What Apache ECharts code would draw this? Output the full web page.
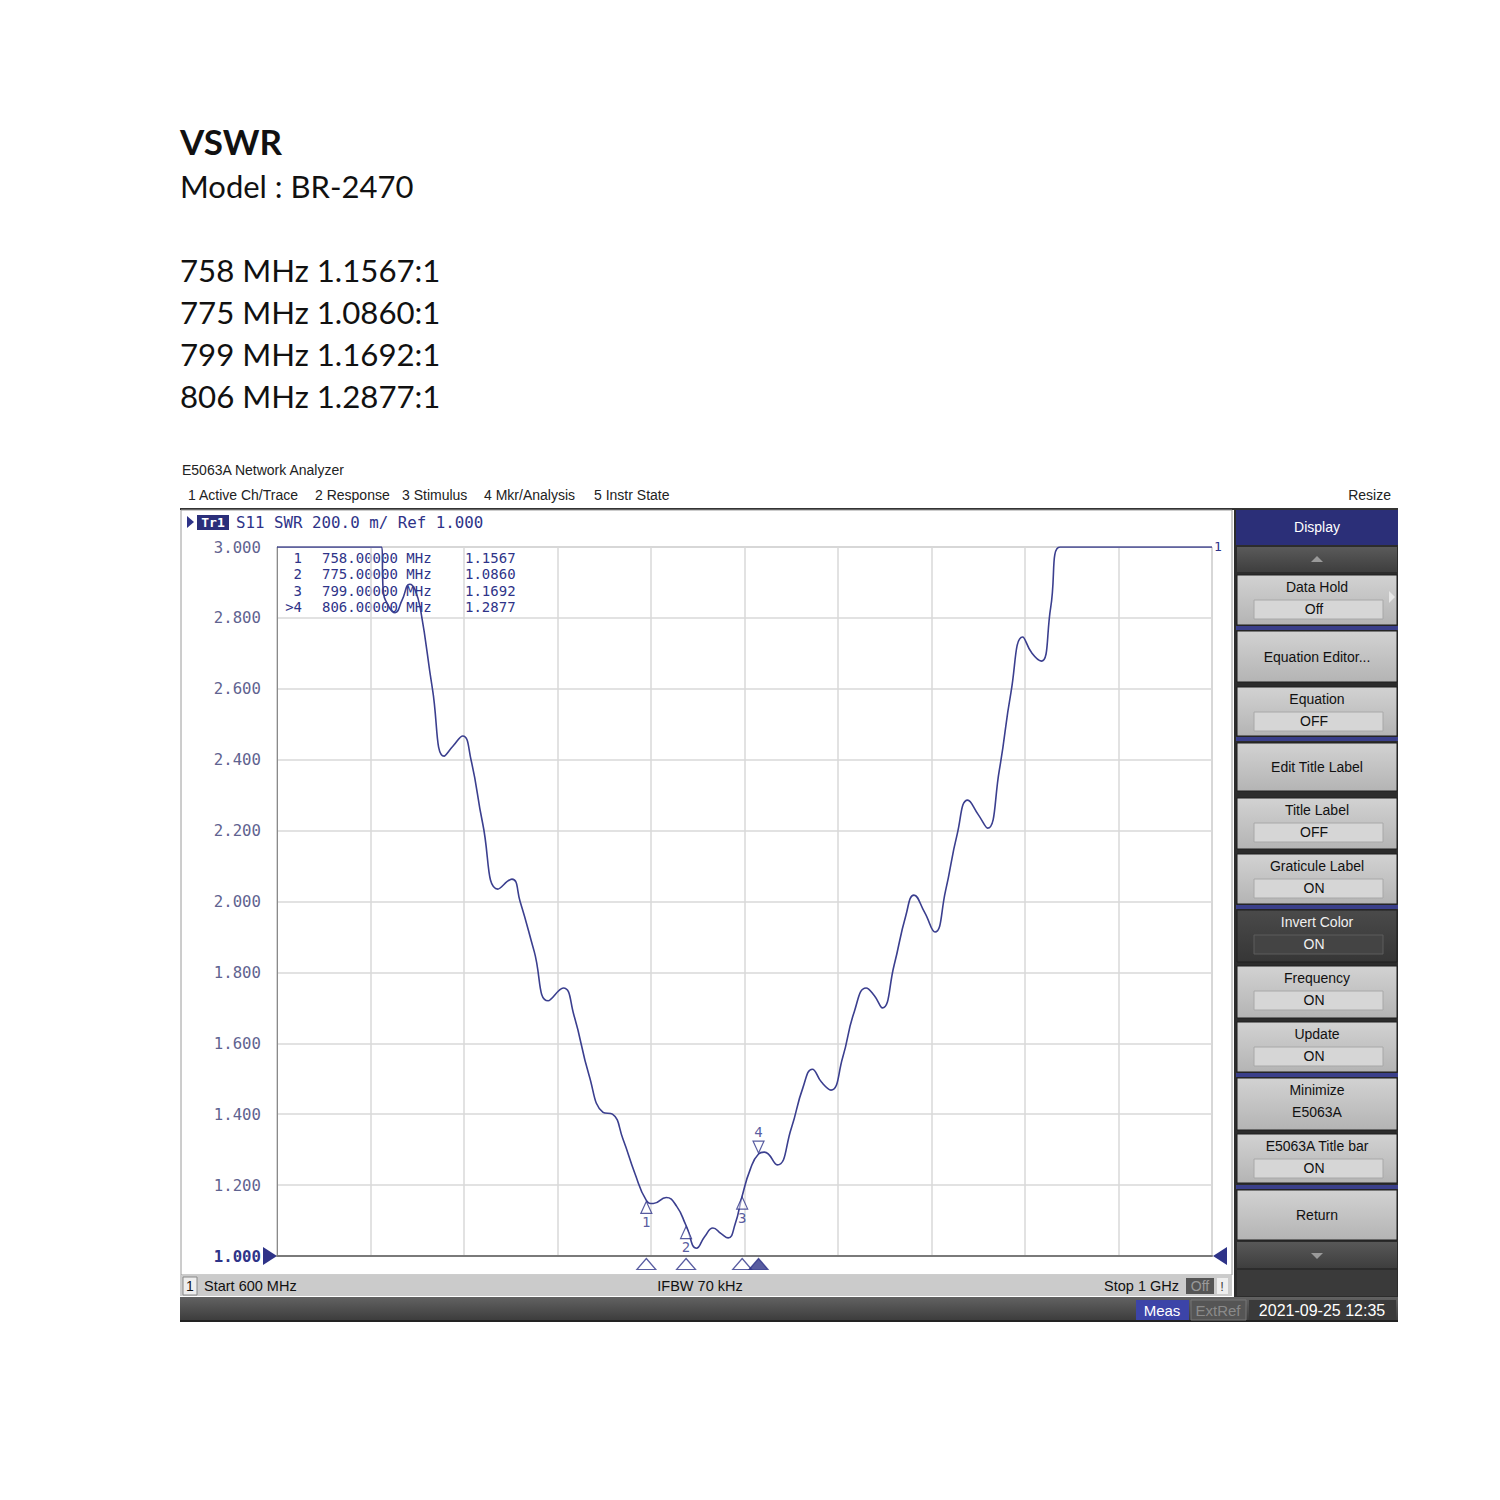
<!DOCTYPE html>
<html>
<head>
<meta charset="utf-8">
<title>VSWR BR-2470</title>
<script src="https://cdn.jsdelivr.net/npm/echarts@6/dist/echarts.min.js"></script>
<style>
html, body { margin: 0; padding: 0; background: #fff; }
#chart { width: 1500px; height: 1500px; }
</style>
</head>
<body>
<div id="chart"></div>
<script>
// S11 trace (MHz / SWR), display clamps at 3.000
const traceFreq = [600, 620, 644.8, 645.4, 648, 650.5, 653.5, 656.8, 659, 661.5, 666.5, 671.5, 675.5, 679.5, 683, 688,
  694.5, 700.5, 704, 710, 716, 722.5, 727, 733.5, 739.5, 743.5, 748, 753, 758, 761, 766.5, 771, 775, 779.5, 783, 786.5,
  790, 793, 796, 799, 802.5, 806, 808.5, 814, 820, 825, 829, 833, 837, 842, 847, 852, 855.5, 859, 864, 869, 872.5, 877,
  881.5, 886, 891, 895.5, 900, 904, 909, 914, 919, 923, 927, 931, 935, 960, 1000]
const traceSwr = [3.0, 3.0, 3.0, 2.88, 2.83, 2.815, 2.85, 2.895, 2.88, 2.82, 2.60, 2.41, 2.44, 2.467, 2.40, 2.22,
  2.035, 2.063, 2.00, 1.86, 1.72, 1.756, 1.68, 1.51, 1.405, 1.40, 1.33, 1.235, 1.1567, 1.148, 1.165, 1.14, 1.086, 1.022, 1.055, 1.079,
  1.063, 1.051, 1.09, 1.1692, 1.245, 1.2877, 1.293, 1.257, 1.36, 1.475, 1.527, 1.49, 1.468, 1.56, 1.69, 1.756, 1.735, 1.70, 1.82, 1.96, 2.018, 1.97,
  1.914, 2.03, 2.19, 2.286, 2.245, 2.207, 2.37, 2.59, 2.746, 2.70, 2.678, 2.83, 3.0, 3.0, 3.0]

// markers
const markerFreq = [758, 775, 799, 806]
const markerSwr = [1.1567, 1.0860, 1.1692, 1.2877]
const markerName = ['1', '2', '3', '>4']

// axis setup (Start / Stop / Ref / scale)
const startMHz = 600
const stopMHz = 1000
const swrMin = 1.0
const swrMax = 3.0
const swrDiv = 0.2

const navy = '#2e3388'
const mono = 'DejaVu Sans Mono'
const ui = 'Liberation Sans'
const txtFont = 'Lato'

const chart = echarts.init(document.getElementById('chart'), null, { renderer: 'svg' })

const G = []
function rect (x, y, w, h, fill, stroke, lw) {
  G.push({ type: 'rect', silent: true, shape: { x: x, y: y, width: w, height: h }, style: { fill: fill || 'none', stroke: stroke || 'none', lineWidth: lw || 1 } })
}
function poly (pts, fill, stroke) {
  G.push({ type: 'polygon', silent: true, shape: { points: pts }, style: { fill: fill || 'none', stroke: stroke || 'none', lineWidth: 1 } })
}
function text (x, y, s, size, color, opt) {
  opt = opt || {}
  G.push({
    type: 'text',
    silent: true,
    x: x,
    y: y,
    style: {
      text: s,
      fontSize: size,
      fontFamily: opt.family || ui,
      fontWeight: opt.weight || 'normal',
      fill: color,
      textAlign: opt.align || 'left',
      align: opt.align || 'left',
      textVerticalAlign: 'middle',
      verticalAlign: 'middle'
    }
  })
}
function grad (c1, c2) {
  return new echarts.graphic.LinearGradient(0, 0, 0, 1, [{ offset: 0, color: c1 }, { offset: 1, color: c2 }])
}

// heading text above the screenshot
text(180, 141, 'VSWR', 35, '#111', { family: txtFont, weight: 'bold' })
text(180, 186, 'Model : BR-2470', 31, '#111', { family: txtFont })
markerFreq.forEach(function (f, i) {
  text(180, 270 + i * 42, f + ' MHz ' + markerSwr[i].toFixed(4) + ':1', 31.2, '#111', { family: txtFont })
})

// analyzer window chrome
text(182, 470, 'E5063A Network Analyzer', 14, '#222')
text(188, 495, '1 Active Ch/Trace', 14, '#222')
text(315, 495, '2 Response', 14, '#222')
text(402, 495, '3 Stimulus', 14, '#222')
text(484, 495, '4 Mkr/Analysis', 14, '#222')
text(594, 495, '5 Instr State', 14, '#222')
text(1391, 495, 'Resize', 14, '#222', { align: 'right' })
rect(180, 508, 1218, 2, '#333')
rect(181, 510, 1051, 765, 'none', '#9a9a9a')

// trace header
poly([[187, 516], [194, 522], [187, 528]], navy)
rect(197, 515, 32, 15, '#2b2f7a')
text(213, 522, 'Tr1', 13, '#fff', { family: mono, align: 'center', weight: 'bold' })
text(236, 522, 'S11 SWR 200.0 m/ Ref 1.000', 15.8, navy, { family: mono })
text(1214, 546, '1', 13, navy, { family: mono })

// reference level arrows
poly([[263, 1247], [277, 1256], [263, 1265]], navy)
poly([[1227, 1247], [1213, 1256], [1227, 1265]], navy)

// marker table
const rowH = 16.3
markerFreq.forEach(function (f, i) {
  const y = 558 + i * rowH
  text(302, y, markerName[i], 14, navy, { family: mono, align: 'right' })
  text(322, y, f.toFixed(5) + ' MHz', 14, navy, { family: mono })
  text(465, y, markerSwr[i].toFixed(4), 14, navy, { family: mono })
})

// status bar
rect(180, 1275, 1052, 21, '#cbcbcb')
rect(183, 1277, 14, 18, '#eeeeee', '#888')
text(190, 1286, '1', 14, '#111', { align: 'center' })
text(204, 1286, 'Start 600 MHz', 14.5, '#111')
text(700, 1286, 'IFBW 70 kHz', 14.5, '#111', { align: 'center' })
text(1179, 1286, 'Stop 1 GHz', 14.5, '#111', { align: 'right' })
rect(1186, 1278, 28, 16, '#555')
text(1200, 1286, 'Off', 14, '#999', { align: 'center' })
rect(1217, 1278, 11, 16, '#eeeeee')
text(1222, 1286, '!', 13, '#444', { align: 'center' })

// bottom bar
rect(180, 1297, 1218, 25, grad('#626262', '#3a3a3a'))
rect(180, 1320, 1218, 2, '#222')
rect(1136, 1300, 53, 20, '#3c44a8')
text(1162, 1310, 'Meas', 15, '#fff', { align: 'center' })
rect(1191, 1300, 55, 20, '#555', '#777')
text(1218, 1310, 'ExtRef', 15, '#8a8a8a', { align: 'center' })
rect(1249, 1300, 147, 20, '#3a3a3a')
text(1322, 1310, '2021-09-25 12:35', 16, '#fff', { align: 'center' })

// soft key panel
rect(1234, 510, 164, 787, '#2c2c2c')
rect(1236, 510, 162, 35, '#2b2f78')
text(1317, 527, 'Display', 14, '#fff', { align: 'center' })
rect(1237, 547, 160, 25, grad('#5a5a5a', '#3e3e3e'))
poly([[1311, 562], [1317, 556], [1323, 562]], '#9a9a9a')
const seps = [626, 737, 905, 1073, 1185]
seps.forEach(function (y) { rect(1236, y, 162, 4, '#3a3f8a') })
const keys = [
  ['Data Hold', 'Off', 575, 50],
  ['Equation Editor...', null, 631, 51],
  ['Equation', 'OFF', 687, 49],
  ['Edit Title Label', null, 743, 48],
  ['Title Label', 'OFF', 798, 51],
  ['Graticule Label', 'ON', 854, 50],
  ['Invert Color', 'ON', 910, 52],
  ['Frequency', 'ON', 966, 52],
  ['Update', 'ON', 1022, 50],
  ['Minimize', 'E5063A', 1078, 52],
  ['E5063A Title bar', 'ON', 1134, 49],
  ['Return', null, 1190, 50]
]
keys.forEach(function (k) {
  const dark = k[0] === 'Invert Color'
  const y = k[2]
  const h = k[3]
  rect(1237, y, 160, h, dark ? grad('#4a4a4a', '#363636') : grad('#d2d2d2', '#b4b4b4'), '#1e1e1e')
  const c = dark ? '#f0f0f0' : '#111'
  if (k[1] === null) {
    text(1317, y + h / 2, k[0], 14, c, { align: 'center' })
  } else if (k[0] === 'Minimize') {
    text(1317, y + 12, k[0], 14, c, { align: 'center' })
    text(1317, y + 34, k[1], 14, c, { align: 'center' })
  } else {
    text(1317, y + 12, k[0], 14, c, { align: 'center' })
    rect(1254, y + 25, 129, 19, dark ? '#444' : '#d6d6d6', dark ? '#5c5c5c' : '#a8a8a8')
    text(1314, y + 34, k[1], 14, c, { align: 'center' })
  }
})
poly([[1389, 591], [1395, 597], [1389, 603]], '#e6e6e6')
rect(1237, 1242, 160, 26, grad('#585858', '#3e3e3e'))
poly([[1311, 1253], [1317, 1259], [1323, 1253]], '#9a9a9a')
rect(1237, 1270, 160, 26, '#3a3a3a')

const trace = traceFreq.map(function (f, i) { return [f, traceSwr[i]] })

const onCurve = markerFreq.map(function (f, i) {
  const active = i === markerFreq.length - 1
  return {
    value: [f, markerSwr[i]],
    symbolRotate: active ? 180 : 0,
    symbolOffset: active ? [0, -7] : [0, 7],
    label: {
      show: true,
      formatter: String(i + 1),
      position: active ? 'top' : 'bottom',
      distance: 1
    }
  }
})

const onAxis = markerFreq.map(function (f, i) {
  const active = i === markerFreq.length - 1
  return {
    value: [f, swrMin],
    itemStyle: active ? { color: navy, borderColor: navy } : { color: '#fff', borderColor: navy }
  }
})

const option = {
  animation: false,
  backgroundColor: '#fff',
  grid: {
    left: 277,
    top: 547,
    width: 935,
    height: 709,
    show: true,
    borderColor: '#a8a8a8',
    borderWidth: 1
  },
  xAxis: {
    type: 'value',
    min: startMHz,
    max: stopMHz,
    interval: 40,
    axisLabel: { show: false },
    axisTick: { show: false },
    axisLine: { show: true, lineStyle: { color: '#7a7a7a', width: 2 } },
    splitLine: { show: true, lineStyle: { color: '#d9d9d9', width: 1.5 } }
  },
  yAxis: {
    type: 'value',
    min: swrMin,
    max: swrMax,
    interval: swrDiv,
    axisTick: { show: false },
    axisLine: { show: true, lineStyle: { color: '#8a8a8a', width: 1 } },
    splitLine: { show: true, lineStyle: { color: '#d9d9d9', width: 1.5 } },
    axisLabel: {
      margin: 16,
      fontFamily: mono,
      fontSize: 15.7,
      color: '#5f6390',
      formatter: function (v) {
        return Math.abs(v - swrMin) < 1e-9 ? '{ref|' + v.toFixed(3) + '}' : v.toFixed(3)
      },
      rich: {
        ref: { fontFamily: mono, fontSize: 15.7, fontWeight: 'bold', color: navy }
      }
    }
  },
  graphic: { elements: G },
  series: [
    {
      name: 'S11 SWR',
      type: 'line',
      data: trace,
      smooth: 0.5,
      showSymbol: false,
      clip: true,
      lineStyle: { color: '#3b3f8f', width: 1.6 },
      z: 3
    },
    {
      name: 'markers',
      type: 'scatter',
      data: onCurve,
      symbol: 'triangle',
      symbolSize: [11, 12],
      clip: false,
      itemStyle: { color: 'rgba(255,255,255,0.6)', borderColor: navy, borderWidth: 1.2 },
      label: { color: navy, fontFamily: mono, fontSize: 14 },
      z: 4
    },
    {
      name: 'marker stimulus',
      type: 'scatter',
      data: onAxis,
      symbol: 'triangle',
      symbolSize: [19, 11],
      symbolOffset: [0, 8],
      clip: false,
      itemStyle: { borderWidth: 1.2 },
      z: 4
    }
  ]
}

chart.setOption(option)
</script>
</body>
</html>
